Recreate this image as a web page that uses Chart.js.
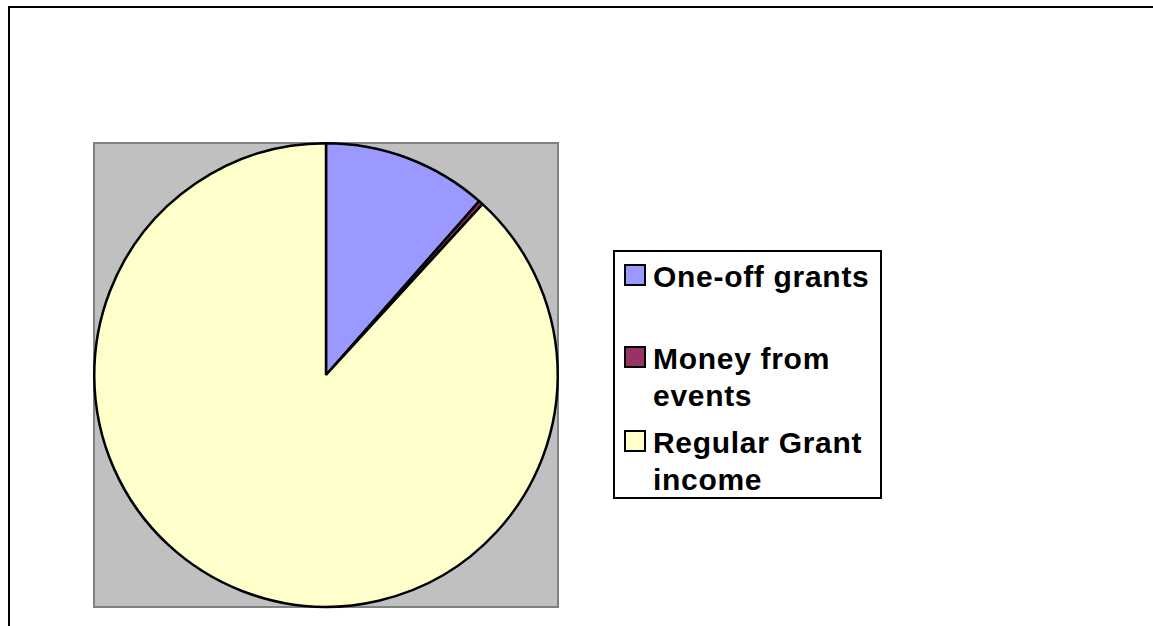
<!DOCTYPE html>
<html>
<head>
<meta charset="utf-8">
<script src="https://cdn.jsdelivr.net/npm/chart.js@4/dist/chart.umd.min.js"></script>
<style>
    html, body { margin: 0; padding: 0; background: #fff; overflow: hidden; }
    #wrap { position: relative; width: 1153px; height: 626px; }
    #frame { position: absolute; left: 8px; top: 6px; width: 1200px; height: 700px; border-left: 2.5px solid #000; border-top: 2.5px solid #000; }
    #chartBox { position: absolute; left: 0; top: 0; width: 1153px; height: 626px; }
    #legend { position: absolute; left: 613px; top: 250px; width: 265px; height: 245px; border: 2px solid #000; background: #fff;
        font-family: "Liberation Sans", Arial, sans-serif; font-weight: bold; font-size: 30px; color: #000; }
    .leg-item { position: absolute; left: 0; width: 265px; }
    .leg-swatch { position: absolute; left: 9px; top: 6px; width: 18px; height: 18px; border: 2px solid #000; }
    .leg-text { position: absolute; left: 38px; top: 0; width: 226px; line-height: 37px; letter-spacing: 0.7px; }
</style>
</head>
<body>
<div id="wrap">
    <div id="frame"></div>
    <div id="chartBox"><canvas id="pieChart"></canvas></div>
    <div id="legend"></div>
</div>
<script>
    // Data
    const categories = ['One-off grants', 'Money from events', 'Regular Grant income'];
    const values = [11.5, 0.3, 88.2];
    const colors = ['#9999ff', '#993366', '#ffffcc'];

    // gray plot area behind the pie
    const plotArea = {
        id: 'plotArea',
        beforeDraw(chart) {
            const { ctx, chartArea: ca } = chart;
            ctx.save();
            ctx.fillStyle = '#c0c0c0';
            ctx.fillRect(ca.left, ca.top, ca.width, ca.height);
            ctx.strokeStyle = '#808080';
            ctx.lineWidth = 2;
            ctx.strokeRect(ca.left + 1, ca.top + 1, ca.width - 2, ca.height - 2);
            ctx.restore();
        }
    };

    const ctx = document.getElementById('pieChart').getContext('2d');
    const myChart = new Chart(ctx, {
        type: 'pie',
        data: {
            labels: categories,
            datasets: [{ data: values, backgroundColor: colors, borderColor: '#000', borderWidth: 2.5 }]
        },
        options: {
            responsive: true,
            maintainAspectRatio: false,
            animation: false,
            layout: { padding: { left: 93, right: 594, top: 142, bottom: 18 } },
            plugins: { legend: { display: false }, tooltip: { enabled: false } }
        },
        plugins: [plotArea]
    });

    // Legend (html so the labels can wrap)
    const legend = document.getElementById('legend');
    const itemTops = [6, 88, 172];
    categories.forEach((label, i) => {
        const item = document.createElement('div');
        item.className = 'leg-item';
        item.style.top = itemTops[i] + 'px';
        item.innerHTML = `<div class="leg-swatch" style="background:${colors[i]}"></div><div class="leg-text">${label}</div>`;
        legend.appendChild(item);
    });
</script>
</body>
</html>
